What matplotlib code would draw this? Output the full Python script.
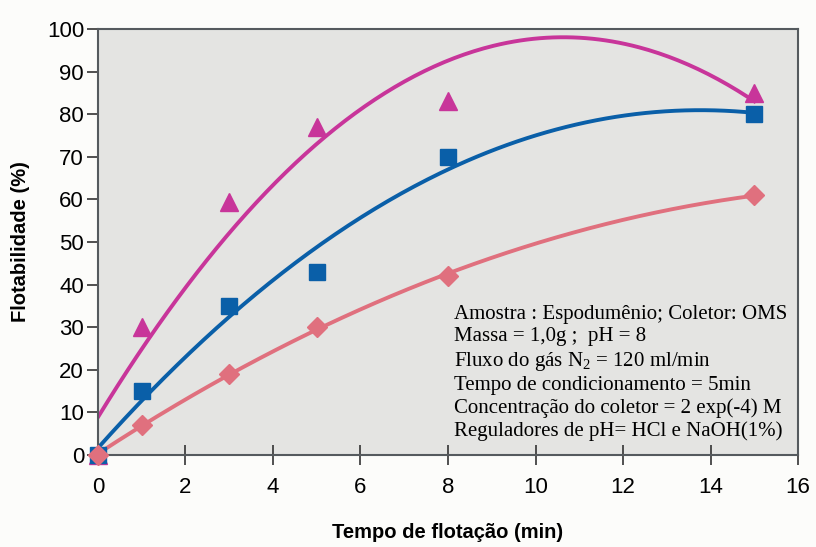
import numpy as np
import matplotlib
matplotlib.use("Agg")
import matplotlib.pyplot as plt

plt.rcParams["mathtext.fontset"] = "custom"
plt.rcParams["mathtext.rm"] = "Liberation Serif"

# Tempo de flotação (min)
tempo = [0, 1, 3, 5, 8, 15]

# Flotabilidade (%) for the three series
triangulos = [0, 30, 59.5, 77, 83, 85]
quadrados = [0, 15, 35, 43, 70, 80]
losangos = [0, 7, 19, 30, 42, 61]

x_ticks = [0, 2, 4, 6, 8, 10, 12, 14, 16]
y_ticks = [0, 10, 20, 30, 40, 50, 60, 70, 80, 90, 100]

info = ("Amostra : Espodumênio; Coletor: OMS\n"
        "Massa = 1,0g ;  pH = 8\n"
        "Fluxo do gás N$_\\mathrm{2}$ = 120 ml/min\n"
        "Tempo de condicionamento = 5min\n"
        "Concentração do coletor = 2 exp(-4) M\n"
        "Reguladores de pH= HCl e NaOH(1%)")

fig = plt.figure(figsize=(8.16, 5.47), dpi=100)
fig.patch.set_facecolor("#fcfcfa")
ax = fig.add_axes([0.120, 0.168, 0.858, 0.779])
ax.set_facecolor("#e4e4e2")

series = [
    (triangulos, "#c8359a", "^", 13),
    (quadrados, "#0a5fa8", "s", 11),
    (losangos, "#e0707e", "D", 10),
]

xs = np.linspace(0, 15, 200)
for ys, color, marker, size in series:
    # second order trend line, as in the spreadsheet original
    coef = np.polyfit(tempo, ys, 2)
    ax.plot(xs, np.polyval(coef, xs), color=color, lw=2.8, zorder=2)
    ax.plot(tempo, ys, linestyle="none", marker=marker, ms=size,
            color=color, zorder=3, clip_on=False)

ax.set_xlim(0, 16)
ax.set_ylim(0, 100)
ax.set_xticks(x_ticks)
ax.set_yticks(y_ticks)

for s in ax.spines.values():
    s.set_color("#555a5e")
    s.set_linewidth(1.5)

ax.tick_params(axis="x", direction="inout", length=14, width=1.2,
               colors="#333333", labelsize=16, pad=9, labelcolor="black")
ax.tick_params(axis="y", direction="out", length=8, width=1.2,
               colors="#333333", labelsize=16, pad=2, labelcolor="black")
for lab in ax.get_xticklabels() + ax.get_yticklabels():
    lab.set_fontfamily("Liberation Sans")

ax.set_xlabel("Tempo de flotação (min)", fontsize=14.5, fontweight="bold",
              fontfamily="Liberation Sans", labelpad=18)
ax.set_ylabel("Flotabilidade (%)", fontsize=14.5, fontweight="bold",
              fontfamily="Liberation Sans", labelpad=12)

ax.text(0.509, 0.352, info, transform=ax.transAxes, fontsize=15,
        fontfamily="Liberation Serif", va="top", ha="left",
        linespacing=1.23)

fig.savefig("out.png", dpi=100, facecolor=fig.get_facecolor())
